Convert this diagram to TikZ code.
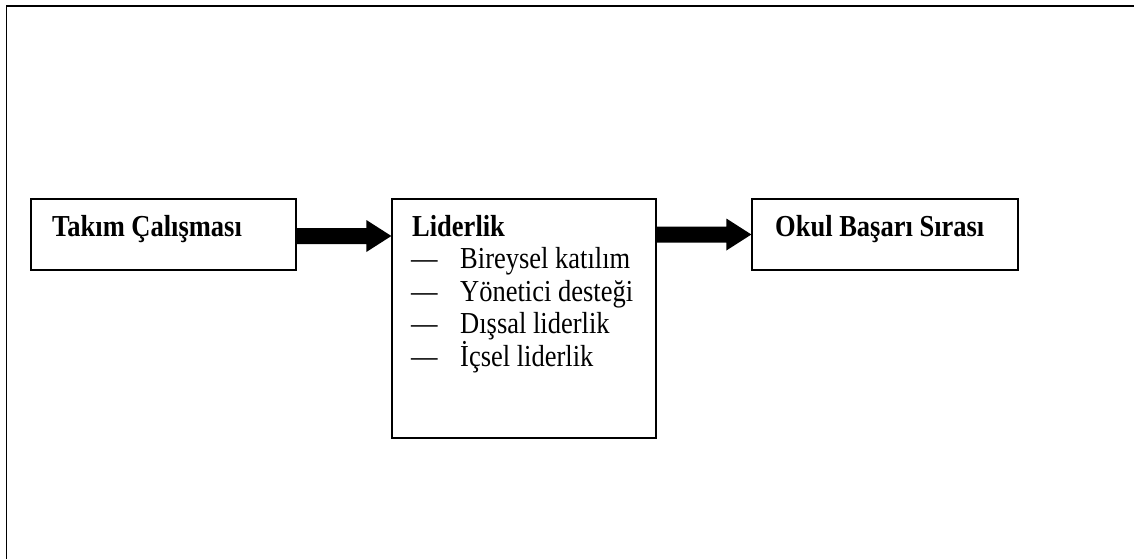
\documentclass[tikz,border=0pt]{standalone}
\usepackage{fontspec}
\setmainfont{Liberation Serif}
\usetikzlibrary{calc}

% thick block arrow from point #1 to tip point #2 (horizontal)
\newcommand{\blockarrow}[2]{%
  \fill ($(#1)+(0,-8)$) -- ($(#2)+(-25,-8)$) -- ($(#2)+(-25,-16)$) -- (#2)
        -- ($(#2)+(-25,16)$) -- ($(#2)+(-25,8)$) -- ($(#1)+(0,8)$) -- cycle;}
% slightly tall lettering
\newcommand{\tall}[1]{\scalebox{1}[1.15]{#1}}

\begin{document}
\begin{tikzpicture}[x=1pt,y=-1pt,
  box/.style={draw, line width=1.3pt, inner sep=0pt, fill=white},
  txt/.style={anchor=base west, inner sep=0pt, font=\fontsize{26.5}{30}\selectfont},
  head/.style={txt, font=\fontsize{26.5}{30}\selectfont\bfseries}]
\useasboundingbox (0,0) rectangle (1134,559);

% open frame: only top and left edges
\draw[line width=1.8pt] (6.5,559) -- (6.5,5.8) -- (1134,5.8);

% boxes
\node[box, minimum width=265pt, minimum height=71pt] (b1) at (163.5,234.5) {};
\node[box, minimum width=264pt, minimum height=239pt] (b2) at (524,318.5) {};
\node[box, minimum width=266pt, minimum height=71pt] (b3) at (885,234.5) {};

% box texts
\node[head] (t1) at (52,236) {\tall{Takım Çalışması}};
\node[head] (t3) at (775,236) {\tall{Okul Başarı Sırası}};
\node[head] (t2) at (412,236) {\tall{Liderlik}};
\foreach \y/\s [count=\i] in {268.5/Bireysel katılım, 301/Yönetici desteği,
                               333.5/Dışsal liderlik, 366/İçsel liderlik} {
  \node[txt] (d\i) at (411,\y) {\tall{—}};
  \node[txt] (i\i) at (460,\y) {\tall{\s}};
}

% connectors
\coordinate (a1s) at ($(b1.east)+(0,1.5)$);
\coordinate (a1e) at (b2.west |- a1s);
\blockarrow{a1s}{a1e}
\coordinate (a2s) at (b2.east |- b3.east);
\coordinate (a2e) at (b3.west);
\blockarrow{a2s}{a2e}
\end{tikzpicture}
\end{document}
